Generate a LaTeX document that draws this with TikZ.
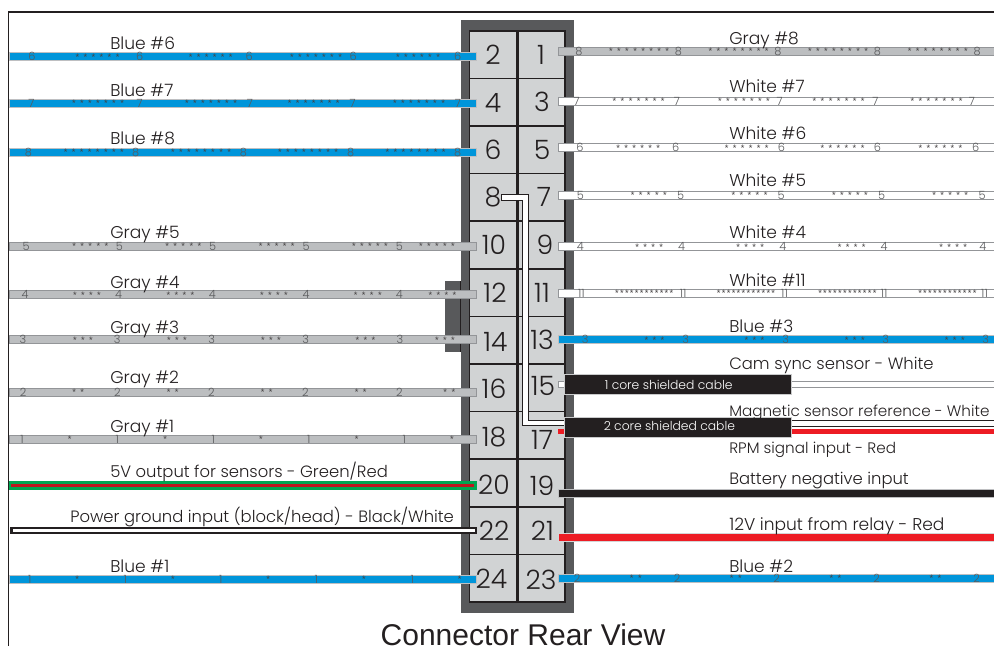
\documentclass[tikz,border=0pt]{standalone}
\usepackage{fontspec}
\setmainfont{Poppins}[UprightFont=* Light]
\newfontfamily\titlefont{Liberation Sans}
\definecolor{housing}{HTML}{58595B}
\definecolor{cellgray}{HTML}{D1D3D4}
\definecolor{wiregray}{HTML}{BCBEC0}
\definecolor{wireedge}{HTML}{939598}
\definecolor{wireblue}{HTML}{0095DA}
\definecolor{wirered}{HTML}{ED1C24}
\definecolor{wiregreen}{HTML}{00A651}
\definecolor{wireblack}{HTML}{231F20}
\tikzset{
  cell/.style={draw=wireblack,fill=cellgray,line width=1.2pt},
  bluewire/.style={draw=wireedge!60,fill=wireblue,line width=0.4pt},
  graywire/.style={draw=wireedge,fill=wiregray,line width=0.5pt},
  whitewire/.style={draw=wireedge,fill=white,line width=0.5pt},
  blackwire/.style={draw=wireedge!60,fill=wireblack,line width=0.4pt},
  redwire/.style={draw=wireedge!40,fill=wirered,line width=0.4pt},
  pinlabel/.style={font=\fontsize{20}{20}\selectfont,text=wireblack,inner sep=0pt},
  wirelabel/.style={font=\fontsize{12.8}{12.8}\selectfont,text=wireblack,anchor=base west,inner sep=0pt},
  longlabel/.style={wirelabel,font=\fontsize{12.3}{12.3}\selectfont},
  smalllabel/.style={wirelabel,font=\fontsize{11.4}{11.4}\selectfont},
  wirenum/.style={font=\fontsize{8.5}{8.5}\selectfont,text=housing,inner sep=0pt},
  wirestar/.style={font=\starfont,text=wireblack!85,inner sep=0pt},
  shieldbox/.style={draw=wireedge!50,fill=wireblack,line width=0.3pt},
  shieldlabel/.style={font=\fontsize{9.25}{9.25}\selectfont,text=white,anchor=base west,inner sep=0pt}
}
\newcommand{\starfont}{\titlefont\fontsize{7}{7}\selectfont\spaceskip=3.3pt\relax}
\newcommand{\wiremarks}[5]{%
  \foreach \x [count=\idx] in {#4}
    \node[wirenum] (num#2-\x) at (\x,#1) {#2};
  \foreach \x [count=\idx] in {#5}
    \node[wirestar] (star#2-\x) at (\x,#1+0.7) {#3};
}

\begin{document}
\begin{tikzpicture}[x=0.75pt,y=-0.75pt]
\useasboundingbox (0,0) rectangle (994,646);
% frame
\draw[wireblack,line width=0.8pt] (8.5,646) -- (8.5,12) -- (994,12);
% housing
\fill[housing] (445,281) rectangle (460.5,351.5);
\draw[wireblack,line width=0.4pt] (460.5,281) -- (460.5,351.5);
\fill[housing] (460.5,20) rectangle (574,613);
\foreach \r in {0,...,11} {
  \draw[cell] (469.5,30.7+47.6*\r) rectangle (516.7,78.3+47.6*\r);
  \draw[cell] (518,30.7+47.6*\r) rectangle (565,78.3+47.6*\r);
}
% pin numbers
\foreach \n/\x/\y in {2/493/55,4/493/103,6/493/150,8/493/197,10/494/245,12/495/293,14/495.5/342,16/494/389,18/494/437,20/494/485,22/494/531,24/491.5/579,
    1/541/55,3/542/102,5/542/150,7/544/197,9/545/245,11/542/293,13/542/340,15/543/386,17/542/440,19/542/486,21/542.5/531,23/541/580}
  \node[pinlabel] (pin\n) at (\x,\y) {\n};
% wires left
\foreach \y/\kind in {56.5/bluewire,103/bluewire,152/bluewire,246/graywire,294.5/graywire,339.7/graywire,392/graywire,439/graywire,579/bluewire}
  \draw[\kind] (9,\y-4.1) rectangle (476,\y+4.1);
\fill[wiregreen] (9,481) rectangle (476.5,489.5);
\fill[wirered!80!black] (11,483.7) rectangle (474,486.8);
\fill[wireblack] (10,526.7) rectangle (476.5,534.3);
\fill[white] (12.5,528.8) rectangle (474.5,532.2);
% wires right
\foreach \y/\kind in {51/graywire,101/whitewire,147.5/whitewire,195/whitewire,246.5/whitewire,293/whitewire,339.5/bluewire,493.5/blackwire,537.5/redwire,578/bluewire}
  \draw[\kind] (558,\y-4.1) rectangle (994,\y+4.1);
% wire from pin 8
\draw[wireblack,line width=0.5pt,fill=white] (501,194.4) -- (528.3,194.4) -- (528.3,420) -- (570,420) -- (570,425) -- (522.8,425) -- (522.8,200) -- (501,200) -- cycle;
% shielded cables
\draw[whitewire] (558.7,381.5) rectangle (570,387);
\fill[wirered] (558,429) rectangle (570,434);
\draw[whitewire] (785,381) rectangle (994,387.5);
\draw[wireblack,line width=0.4pt,fill=white] (785,420) rectangle (994,426);
\fill[wirered] (785,428.5) rectangle (994,433.5);
\draw[shieldbox] (563.7,374.3) rectangle (791.6,394);
\draw[shieldbox] (563.7,416.7) rectangle (791.6,436.7);
\node[shieldlabel] (cable1) at (604.5,389.3) {1 core shielded cable};
\node[shieldlabel] (cable2) at (603.5,430.7) {2 core shielded cable};
% marks left
\wiremarks{56.5}{6}{* * * * * *}{32,139.7,249.3,353.3,457.7}{97.5,210.7,418}
\node[wirestar] (star6-316) at (316,57.2) {* * * * * * *};
\wiremarks{103}{7}{* * * * * * *}{31.5,139.7,250,352.7,458}{98,211,313.7,419}
\wiremarks{152}{8}{* * * * * * * *}{28.5,135.7,243.3,350.7,457.7}{93.8,201,308,415.5}
\wiremarks{246}{5}{* * * * *}{26,119.3,212.7,306,399.3}{90.3,183.3,276.7,370,437}
\wiremarks{294.5}{4}{* * * *}{25,118.7,212.3,306,399.3}{87,180.5,274,367.8,442.5}
\wiremarks{339.7}{3}{* * *}{23,117.3,211.7,305.7,400}{83,177,271,365.5,445}
\wiremarks{392}{2}{* *}{23,117.3,211.3,305.3,399.3}{78.3,172.7,266.7,360.7,449.3}
\wiremarks{439}{1}{*}{22,117.3,213.3,308.7,404.3}{69.7,165.3,261,356.7,452}
\wiremarks{579}{1}{*}{29.7,125.3,220.7,316.3,412.3}{77.3,173,268.3,364,459.7}
% marks right
\wiremarks{51}{8}{* * * * * * * *}{578.9,678.5,777.8,877.5,977.1}{639.1,738.6,838,937.7}
\wiremarks{101}{7}{* * * * * * *}{576.7,677,779.6,875.3,971.8}{638.6,743.9,838.6,936.5}
\wiremarks{147.5}{6}{* * * * * *}{579.9,675.7,781.3,877.5,975.7}{638.2,746.7,842.5,940.4}
\wiremarks{195}{5}{* * * * *}{580.3,680.6,781,881.7,982}{648.8,749.5,849.9,950.2}
\wiremarks{246.5}{4}{* * * *}{580.3,681.7,782.8,884.2,982.8}{649.2,750.2,851.7,953.1}
\wiremarks{293}{11}{\spaceskip=1pt\relax * * * * * * * * * * * *}{581.3,683.1,784.5,884.2,984.5}{644.2,746,847.4,947.4}
\wiremarks{339.5}{3}{* * *}{585.2,685.6,785.6,885.6,985.6}{654.5,754.5,854.8,954.8}
\wiremarks{578}{2}{* *}{577.1,677.1,776.7,876.7,976.7}{635.8,735.8,835.4,935.4}
% labels left
\foreach \txt/\y [count=\idx] in {Blue \#6/49.3,Blue \#7/96,Blue \#8/144.7,Gray \#5/238.7,Gray \#4/288,Gray \#3/333,Gray \#2/383,Gray \#1/432,Blue \#1/572}
  \node[wirelabel] (left\idx) at (110,\y) {\txt};
\node[longlabel] (sensors) at (110,477) {5V output for sensors - Green/Red};
\node[longlabel] (ground) at (70,522.7) {Power ground input (block/head) - Black/White};
% labels right
\foreach \txt/\y [count=\idx] in {Gray \#8/44,White \#7/92.7,White \#6/139.7,White \#5/186.7,White \#4/238.7,White \#11/286.7,Blue \#3/332.7,12V input from relay - Red/530.7,Blue \#2/572}
  \node[wirelabel] (right\idx) at (729,\y) {\txt};
\node[longlabel] (cam) at (729,369.3) {Cam sync sensor - White};
\node[longlabel] (battery) at (729,484.3) {Battery negative input};
\node[smalllabel] (magnetic) at (729,416.7) {Magnetic sensor reference - White};
\node[smalllabel] (rpm) at (729,453.3) {RPM signal input - Red};
\node[font=\titlefont\fontsize{22.5}{22.5}\selectfont,text=wireblack,anchor=base,inner sep=0pt] (title) at (523,645) {Connector Rear View};
\end{tikzpicture}
\end{document}
